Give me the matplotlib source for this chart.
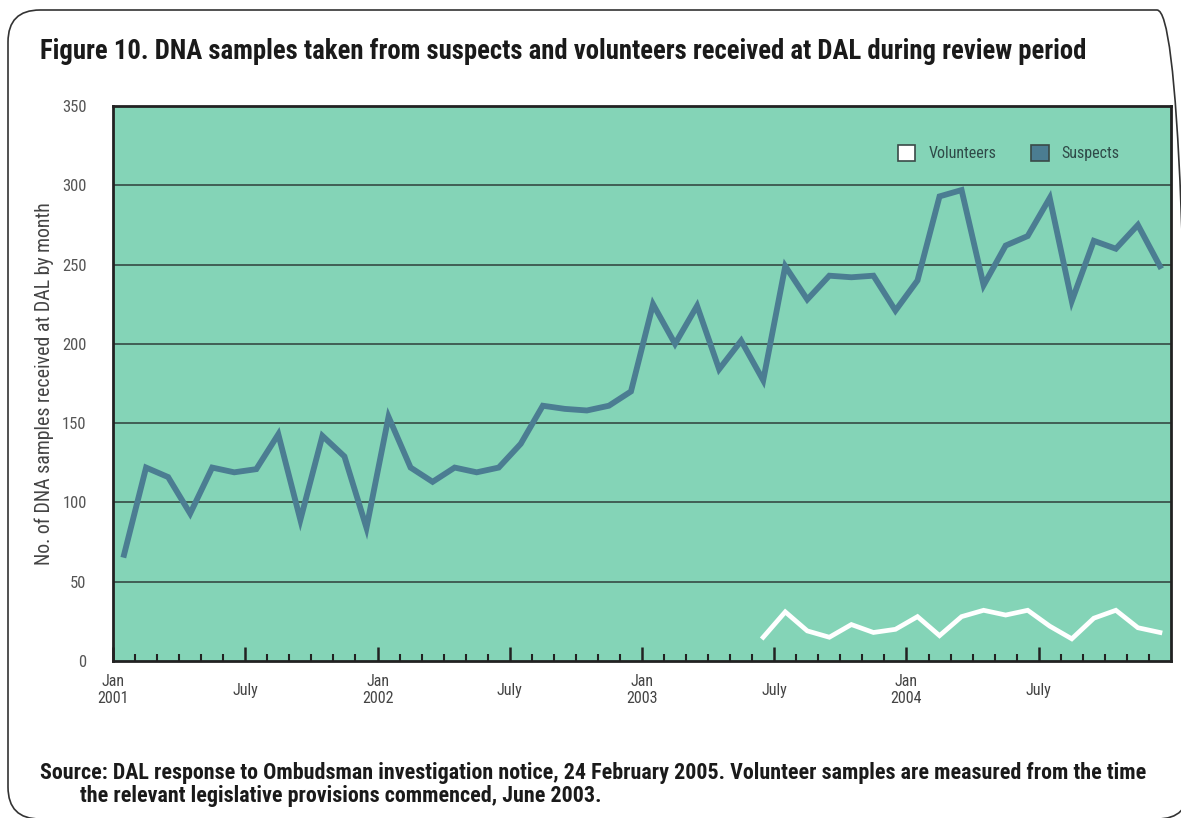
import matplotlib
matplotlib.use('Agg')
import matplotlib.pyplot as plt
from matplotlib.patches import Patch, FancyBboxPatch
import numpy as np

plt.rcParams['font.family'] = ['Roboto Condensed', 'Archivo Narrow', 'PT Sans Narrow',
                               'Liberation Sans Narrow', 'Liberation Sans', 'DejaVu Sans']

# monthly values, Jan 2001 .. Dec 2004
suspects = [67, 122, 116, 93, 122, 119, 121, 143, 89, 142, 129, 84,
            154, 122, 113, 122, 119, 122, 137, 161, 159, 158, 161, 170,
            225, 200, 224, 184, 202, 177, 249, 228, 243, 242, 243, 221,
            240, 293, 297, 237, 262, 268, 292, 227, 265, 260, 275, 249]
# volunteers, June 2003 .. Dec 2004
volunteers = [15, 31, 19, 15, 23, 18, 20, 28, 16, 28, 32, 29, 32,
              22, 14, 27, 32, 21, 18]
vol_start = 29

tick_labels = ['Jan\n2001', 'July', 'Jan\n2002', 'July', 'Jan\n2003', 'July',
               'Jan\n2004', 'July']

bg = '#84d4b7'
c_sus = '#4b7d92'

fig = plt.figure(figsize=(11.81, 8.18), dpi=100)
# rounded frame, in inches so the corners stay round
border = FancyBboxPatch((0.08, -0.01), 11.81, 8.09, transform=fig.dpi_scale_trans,
                        boxstyle='round,pad=0,rounding_size=0.32',
                        fc='none', ec='#333333', lw=1.2)
fig.patches.append(border)

ax = fig.add_axes([0.0957, 0.1919, 0.8958, 0.6785])
ax.set_facecolor(bg)

x_s = np.arange(len(suspects)) + 0.5
x_v = np.arange(vol_start, vol_start + len(volunteers)) + 0.5
ax.plot(x_s, suspects, color=c_sus, lw=4.2, solid_joinstyle='miter', zorder=3)
ax.plot(x_v, volunteers, color='white', lw=3.4, solid_joinstyle='miter', zorder=3)

ax.set_xlim(0, 48)
ax.set_ylim(0, 350)
ax.set_yticks(np.arange(0, 351, 50))
for v in range(50, 350, 50):
    ax.axhline(v, color='#2f3f3a', lw=1.1, zorder=1)

ax.set_xticks(np.arange(0, 48, 6))
ax.set_xticklabels(tick_labels)
ax.set_xticks(np.arange(1, 48), minor=True)
ax.tick_params(axis='x', which='major', direction='in', length=10, width=1.8,
               color='#222222', pad=21, labelsize=11.5, labelcolor='#444444')
ax.tick_params(axis='x', which='minor', direction='in', length=5, width=1.5,
               color='#222222')
for lbl in ax.get_xticklabels():
    lbl.set_va('center')
    lbl.set_linespacing(1.15)
ax.tick_params(axis='y', length=0, pad=19, labelsize=12, labelcolor='#555555')
for s in ax.spines.values():
    s.set_linewidth(2)
    s.set_color('#222222')

ax.set_ylabel('No. of DNA samples received at DAL by month', fontsize=14.3,
              color='#444444', labelpad=6)

handles = [Patch(facecolor='white', edgecolor='#3a4a48', lw=1.2, label='Volunteers'),
           Patch(facecolor=c_sus, edgecolor='#3a4a48', lw=1.2, label='Suspects')]
ax.legend(handles=handles, loc='upper right', bbox_to_anchor=(0.965, 0.955),
          ncol=2, frameon=False, fontsize=11.5, labelcolor='#2f4a48',
          handlelength=1.1, handleheight=1.1, columnspacing=2.2, handletextpad=0.8)

fig.text(0.034, 0.937, 'Figure 10. DNA samples taken from suspects and volunteers received at DAL during review period',
         fontsize=19.3, fontweight='bold', color='#1a1a1a', va='center', ha='left')
fig.text(0.034, 0.055, 'Source: DAL response to Ombudsman investigation notice, 24 February 2005. Volunteer samples are measured from the time',
         fontsize=15.8, fontweight='bold', color='#1a1a1a', va='center', ha='left')
fig.text(0.068, 0.027, 'the relevant legislative provisions commenced, June 2003.',
         fontsize=15.8, fontweight='bold', color='#1a1a1a', va='center', ha='left')

fig.savefig('out.png', dpi=100)
